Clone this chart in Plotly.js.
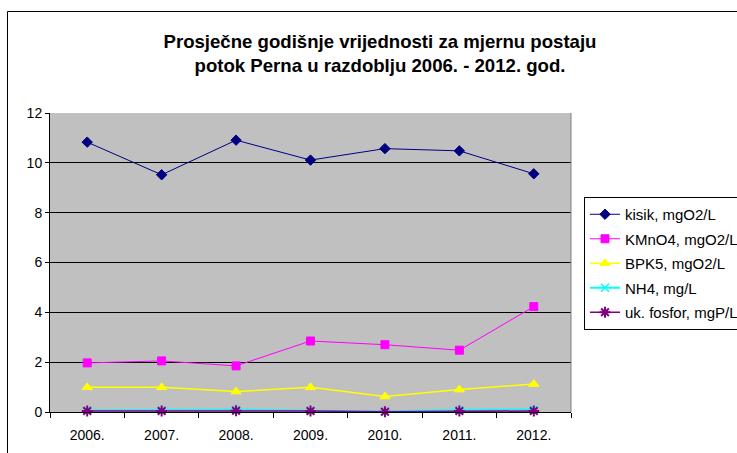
<!DOCTYPE html>
<html>
<head>
<meta charset="utf-8">
<script src="https://cdn.plot.ly/plotly-3.0.1.min.js"></script>
<style>html,body{margin:0;padding:0;background:#fff;}#chart{width:737px;height:453px;}</style>
</head>
<body>
<div id="chart"></div>
<script>
const years = ["2006.", "2007.", "2008.", "2009.", "2010.", "2011.", "2012."];
const kisik = [10.83, 9.52, 10.91, 10.11, 10.57, 10.48, 9.56];
const kmno4 = [1.97, 2.05, 1.85, 2.85, 2.70, 2.48, 4.23];
const bpk5 = [0.99, 0.99, 0.82, 0.99, 0.62, 0.90, 1.12];
const nh4 = [0.06, 0.07, 0.09, 0.05, 0.02, 0.08, 0.10];
const fosfor = [0.04, 0.04, 0.05, 0.04, 0.01, 0.04, 0.04];
const names = ["kisik, mgO2/L", "KMnO4, mgO2/L", "BPK5, mgO2/L", "NH4, mg/L", "uk. fosfor, mgP/L"];

const font = "'Liberation Sans', Arial, sans-serif";
function tr(y, name, color, symbol, size, lw, mlw, g) {
  return {
    x: years, y: y, name: name, type: "scatter", mode: "lines+markers",
    line: {color: color, width: lw},
    marker: {color: color, symbol: symbol, size: size, line: {color: color, width: mlw}},
    legendgroup: g, cliponaxis: false
  };
}
const data = [
  tr(kisik, names[0], "#000080", "diamond", 8, 1, 1, "a"),
  tr(kmno4, names[1], "#ff00ff", "square", 8, 1, 1, "b"),
  tr(bpk5, names[2], "#ffff00", "triangle-up", 9, 1.5, 1, "c"),
  tr(nh4, names[3], "#00ffff", "x-thin-open", 8, 2, 1.5, "d"),
  tr(fosfor, names[4], "#800080", "asterisk-open", 9, 1.5, 2, "e")
];
const layout = {
  width: 737, height: 453,
  margin: {l: 50, r: 166, t: 113, b: 41, autoexpand: false},
  paper_bgcolor: "#ffffff",
  plot_bgcolor: "#c0c0c0",
  font: {family: font, size: 14, color: "#000"},
  title: {
    text: "<b>Prosječne godišnje vrijednosti za mjernu postaju<br>potok Perna u razdoblju 2006. - 2012. god.</b>",
    font: {family: font, size: 18.6, color: "#000"},
    x: 380 / 737, xanchor: "center", xref: "container",
    y: 1 - 48 / 453, yanchor: "top", yref: "container"
  },
  xaxis: {
    type: "category", range: [-0.5, 6.5],
    showgrid: false, showline: true, linecolor: "#000", linewidth: 1,
    ticks: "outside", tickson: "boundaries", ticklen: 5, tickcolor: "#000",
    tickfont: {family: font, size: 14, color: "#000"},
    ticklabelstandoff: 10,
    fixedrange: true
  },
  yaxis: {
    range: [0, 12], dtick: 2, tick0: 0,
    showgrid: true, gridcolor: "#000", gridwidth: 1,
    zeroline: false,
    showline: true, linecolor: "#000", linewidth: 1,
    ticks: "outside", ticklen: 4, tickcolor: "#000",
    tickfont: {family: font, size: 14, color: "#000"},
    fixedrange: true
  },
  showlegend: true,
  legend: {
    x: (584 - 50) / 521, xanchor: "left",
    y: (412 - 197) / 299, yanchor: "top",
    bgcolor: "#ffffff", bordercolor: "#000", borderwidth: 1,
    font: {family: font, size: 15, color: "#000"},
    traceorder: "grouped", tracegroupgap: 2
  },
  shapes: [
    {type: "line", xref: "paper", yref: "paper", x0: 1, x1: 1, y0: 0, y1: 1,
     line: {color: "#808080", width: 1}},
    {type: "rect", xref: "paper", yref: "paper",
     x0: (7.5 - 50) / 521, x1: 1.6, y0: -0.5, y1: (412 - 11.5) / 299,
     line: {color: "#000", width: 1}, fillcolor: "rgba(0,0,0,0)", layer: "below"}
  ]
};
Plotly.newPlot("chart", data, layout, {displayModeBar: false, staticPlot: true});
</script>
</body>
</html>
